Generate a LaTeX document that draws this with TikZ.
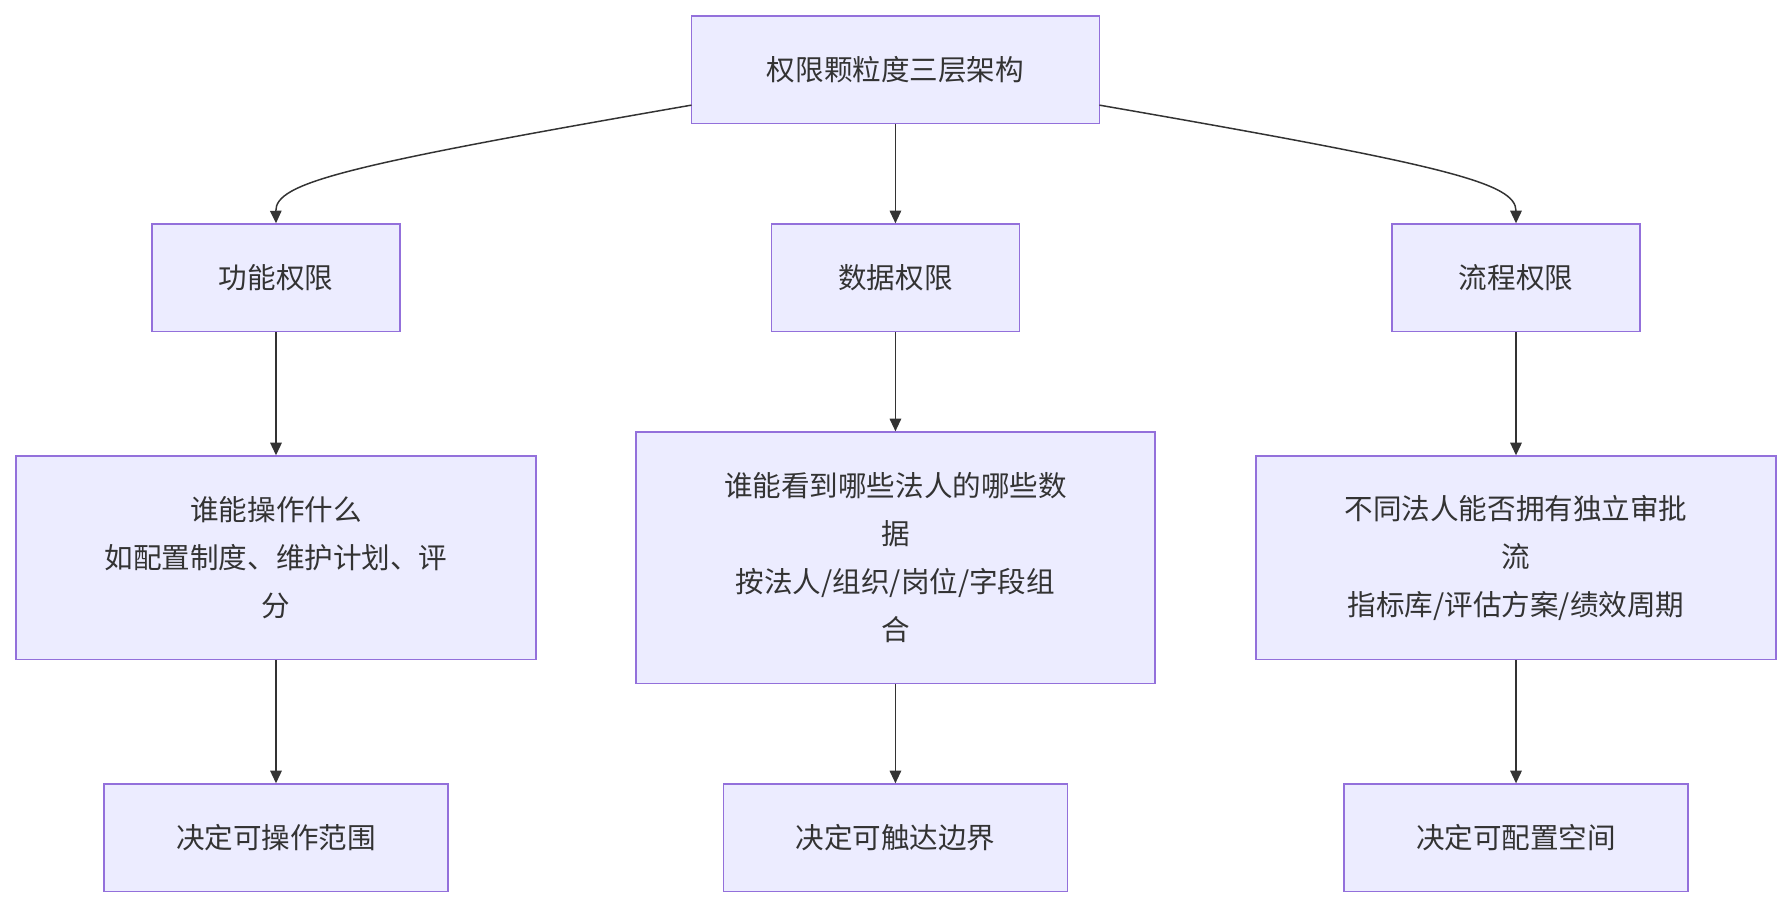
\documentclass[tikz,border=0pt]{standalone}
\usepackage{fontspec}
\setmainfont{Noto Sans CJK SC}
\usetikzlibrary{arrows.meta}
\definecolor{bfill}{HTML}{ECECFF}
\definecolor{bline}{HTML}{9370DB}
\definecolor{aline}{HTML}{333333}
\begin{document}
\begin{tikzpicture}[x=1pt,y=-1pt,
  box/.style={draw=bline,fill=bfill,line width=1.2pt,inner sep=0pt,align=center,
    font=\fontsize{25}{42}\selectfont,text=aline},
  arr/.style={draw=aline,line width=1.3pt,-{Triangle[length=11pt,width=10pt]}}]
\useasboundingbox (0,0) rectangle (1568,794);
\node[box,minimum width=357pt,minimum height=94pt] (top) at (783.5,61) {权限颗粒度三层架构};
\node[box,minimum width=217pt,minimum height=94pt] (f) at (241.5,243) {功能权限};
\node[box,minimum width=217pt,minimum height=94pt] (d) at (783.5,243) {数据权限};
\node[box,minimum width=217pt,minimum height=94pt] (p) at (1326.5,243) {流程权限};
\node[box,minimum width=455pt,minimum height=178pt] (f2) at (241.5,488) {谁能操作什么\\如配置制度、维护计划、评\\分};
\node[box,minimum width=454pt,minimum height=220pt] (d2) at (783.5,488) {谁能看到哪些法人的哪些数\\据\\按法人/组织/岗位/字段组\\合};
\node[box,minimum width=455pt,minimum height=178pt] (p2) at (1326.5,488) {不同法人能否拥有独立审批\\流\\指标库/评估方案/绩效周期};
\node[box,minimum width=301pt,minimum height=94pt] (f3) at (241.5,733) {决定可操作范围};
\node[box,minimum width=301pt,minimum height=94pt] (d3) at (783.5,733) {决定可触达边界};
\node[box,minimum width=301pt,minimum height=94pt] (p3) at (1326.5,733) {决定可配置空间};
\coordinate (tl) at (605,92);
\coordinate (tr) at (962,92);
\draw[arr] (tl) .. controls (300,145) and (241,160) .. (f.north);
\draw[arr] (tr) .. controls (1267,145) and (1326.5,160) .. (p.north);
\draw[arr] (top) -- (d);
\draw[arr] (f) -- (f2);
\draw[arr] (d) -- (d2);
\draw[arr] (p) -- (p2);
\draw[arr] (f2) -- (f3);
\draw[arr] (d2) -- (d3);
\draw[arr] (p2) -- (p3);
\end{tikzpicture}
\end{document}
